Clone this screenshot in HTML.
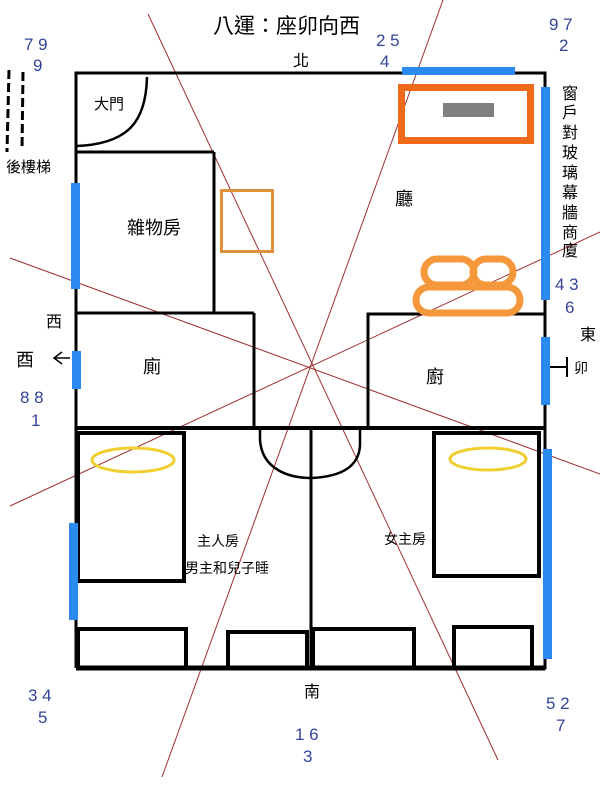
<!DOCTYPE html>
<html><head><meta charset="utf-8"><style>
html,body{margin:0;padding:0;background:#fff;}
svg{display:block;}
text{font-family:"Liberation Sans","Noto Sans CJK TC",sans-serif;}
.n{fill:#334499;font-size:17px;}
</style></head><body>
<svg width="600" height="800" viewBox="0 0 600 800" xmlns="http://www.w3.org/2000/svg">
<rect width="600" height="800" fill="#fff"/>
<g stroke="#a03030" stroke-width="1" fill="none">
<line x1="148" y1="14" x2="498" y2="760"/>
<line x1="443" y1="0" x2="162" y2="777"/>
<line x1="10" y1="258" x2="600" y2="474"/>
<line x1="10" y1="506" x2="600" y2="232"/>
</g>
<g stroke="#000" fill="none" stroke-width="3">
<polyline points="76,668 76,73 545,73 545,668 76,668"/>
<line x1="76" y1="668" x2="545" y2="668" stroke-width="5"/>
<line x1="76" y1="152" x2="214" y2="152"/>
<line x1="214" y1="152" x2="214" y2="313"/>
<line x1="76" y1="313" x2="254" y2="313"/>
<line x1="254" y1="313" x2="254" y2="428"/>
<polyline points="368,428 368,314 545,314"/>
<line x1="76" y1="428" x2="545" y2="428" stroke-width="4"/>
<line x1="311" y1="428" x2="311" y2="668"/>
<path d="M147,77 C146,120 130,144 76,146" stroke-width="2.5"/>
<path d="M260,429 L260,440 C262,470 290,478 311,478 C335,477 359,470 360,445 L360,429" stroke-width="2.5"/>
<rect x="78" y="433" width="106" height="148" stroke-width="4"/>
<rect x="434" y="433" width="105" height="143" stroke-width="4"/>
<rect x="78" y="629" width="108" height="39" stroke-width="4"/>
<rect x="228" y="632" width="79" height="36" stroke-width="4"/>
<rect x="313" y="629" width="101" height="39" stroke-width="4"/>
<rect x="454" y="627" width="78" height="41" stroke-width="4"/>
<line x1="548" y1="367" x2="567" y2="367" stroke-width="2"/>
<line x1="567" y1="357" x2="567" y2="377" stroke-width="2"/>
<polyline points="62,352 54,358 62,364" stroke-width="1.5"/>
<line x1="54" y1="358" x2="70" y2="358" stroke-width="1.5"/>
</g>
<g stroke="#000" stroke-width="3" stroke-dasharray="9,4">
<line x1="9" y1="70" x2="7" y2="152"/>
<line x1="23" y1="72" x2="22" y2="150"/>
</g>
<g fill="#2b8af0">
<rect x="402" y="67" width="113" height="8"/>
<rect x="541" y="87" width="9" height="213"/>
<rect x="541" y="337" width="9" height="68"/>
<rect x="543" y="449" width="9" height="210"/>
<rect x="71" y="183" width="9" height="106"/>
<rect x="72" y="351" width="9" height="38"/>
<rect x="69" y="523" width="9" height="97"/>
</g>
<rect x="401.5" y="87.5" width="129" height="53" fill="none" stroke="#f06a1c" stroke-width="7"/>
<rect x="443" y="103" width="51" height="14" fill="#808080"/>
<rect x="221.5" y="190.5" width="51" height="61" fill="none" stroke="#e0913a" stroke-width="3"/>
<g fill="none" stroke="#f5983c" stroke-width="7">
<rect x="424" y="259" width="50" height="26" rx="13"/>
<rect x="473" y="259" width="40" height="26" rx="13"/>
<rect x="416" y="287" width="104" height="26" rx="13"/>
</g>
<g fill="none" stroke="#f0d030" stroke-width="3">
<ellipse cx="133" cy="460" rx="41" ry="12"/>
<ellipse cx="488" cy="459" rx="38" ry="11"/>
</g>
<g fill="#000">
<text x="213" y="33" font-size="21">八運：座卯向西</text>
<text x="293" y="66" font-size="16">北</text>
<text x="94" y="109" font-size="15">大門</text>
<text x="6" y="172" font-size="15">後樓梯</text>
<text x="127" y="234" font-size="18">雜物房</text>
<text x="395" y="205" font-size="18">廳</text>
<text x="143" y="373" font-size="18">廁</text>
<text x="426" y="383" font-size="18">廚</text>
<text x="197" y="546" font-size="14">主人房</text>
<text x="185" y="573" font-size="14">男主和兒子睡</text>
<text x="384" y="544" font-size="14">女主房</text>
<text x="304" y="697" font-size="16">南</text>
<text x="46" y="327" font-size="16">西</text>
<text x="16" y="366" font-size="18">酉</text>
<text x="580" y="340" font-size="16">東</text>
<text x="574" y="373" font-size="14">卯</text>
<g font-size="16">
<text x="562" y="99">窗</text><text x="562" y="118">戶</text><text x="562" y="138">對</text>
<text x="562" y="158">玻</text><text x="562" y="178">璃</text><text x="562" y="198">幕</text>
<text x="562" y="218">牆</text><text x="562" y="238">商</text><text x="562" y="256">廈</text>
</g>
</g>
<g class="n">
<text x="24" y="50">7 9</text><text x="33" y="71">9</text>
<text x="376" y="46">2 5</text><text x="380" y="67">4</text>
<text x="549" y="30">9 7</text><text x="559" y="51">2</text>
<text x="555" y="290">4 3</text><text x="565" y="313">6</text>
<text x="20" y="403">8 8</text><text x="31" y="426">1</text>
<text x="28" y="701">3 4</text><text x="38" y="723">5</text>
<text x="295" y="740">1 6</text><text x="303" y="762">3</text>
<text x="546" y="709">5 2</text><text x="556" y="731">7</text>
</g>
</svg>
</body></html>
